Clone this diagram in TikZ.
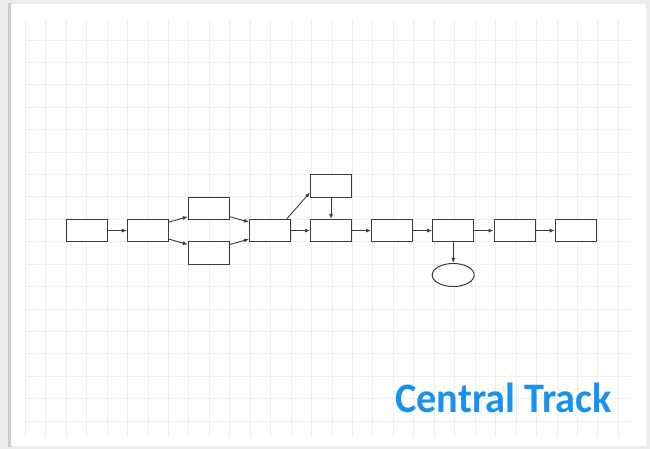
\documentclass[tikz,border=0pt]{standalone}
\usepackage{fontspec}
\setmainfont{Carlito}
\usetikzlibrary{arrows.meta,shapes.geometric}
\definecolor{trackblue}{RGB}{24,146,240}
\definecolor{gridline}{RGB}{238,238,238}
\definecolor{boxline}{RGB}{60,60,60}
\tikzset{
  stepbox/.style={draw=boxline, line width=1pt, fill=white,
    minimum width=41pt, minimum height=22.4pt, inner sep=0pt},
  endoval/.style={ellipse, draw=boxline, line width=1pt, fill=white,
    minimum width=42pt, minimum height=23pt, inner sep=0pt},
  flow/.style={draw=boxline, line width=0.9pt,
    -{Latex[length=5pt,width=4pt]}},
  gridrule/.style={draw=gridline, line width=0.8pt}
}
\begin{document}
\begin{tikzpicture}[x=1pt,y=-1pt]
  \useasboundingbox (0,0) rectangle (650,449);
  % surrounding desk and sheet
  \fill[gray!14] (0,0) rectangle (650,449);
  \fill[gray!40] (8,3) rectangle (12,447);
  \fill[white] (11,4) rectangle (646,446);
  % squared paper
  \foreach \k in {0,...,29}
    \draw[gridrule] ({25.2+20.45*\k},20) -- ({25.2+20.45*\k},437);
  \foreach \k in {1,...,18}
    \draw[gridrule] (25,{17.7+22.4*\k}) -- (632,{17.7+22.4*\k});

  % main track
  \node[stepbox] (b1) at (86.5,230.6) {};
  \node[stepbox] (b2) at (147.9,230.6) {};
  \node[stepbox] (up) at (208.8,208.2) {};
  \node[stepbox] (low) at (208.8,253.0) {};
  \node[stepbox] (b5) at (270.0,230.6) {};
  \node[stepbox] (top) at (331.0,186.0) {};
  \node[stepbox] (b6) at (331.0,230.6) {};
  \node[stepbox] (b7) at (392.0,230.6) {};
  \node[stepbox] (b8) at (453.2,230.6) {};
  \node[stepbox] (b9) at (514.5,230.6) {};
  \node[stepbox] (b10) at (575.7,230.6) {};
  \node[endoval] (end) at (453.2,275.0) {};

  \draw[flow] (b1) -- (b2);
  \draw[flow] (b2.22) -- (up.202);
  \draw[flow] (b2.-22) -- (low.158);
  \draw[flow] (up.-22) -- (b5.158);
  \draw[flow] (low.22) -- (b5.202);
  \draw[flow] (b5.35) -- (top.197);
  \draw[flow] (top) -- (b6);
  \draw[flow] (b5) -- (b6);
  \draw[flow] (b6) -- (b7);
  \draw[flow] (b7) -- (b8);
  \draw[flow] (b8) -- (b9);
  \draw[flow] (b9) -- (b10);
  \draw[flow] (b8) -- (end);

  % caption
  \node[anchor=base west, inner sep=0pt, text=trackblue, xscale=0.96,
    font=\fontsize{42}{46}\selectfont\bfseries] (title) at (395,412) {Central Track};
\end{tikzpicture}
\end{document}
